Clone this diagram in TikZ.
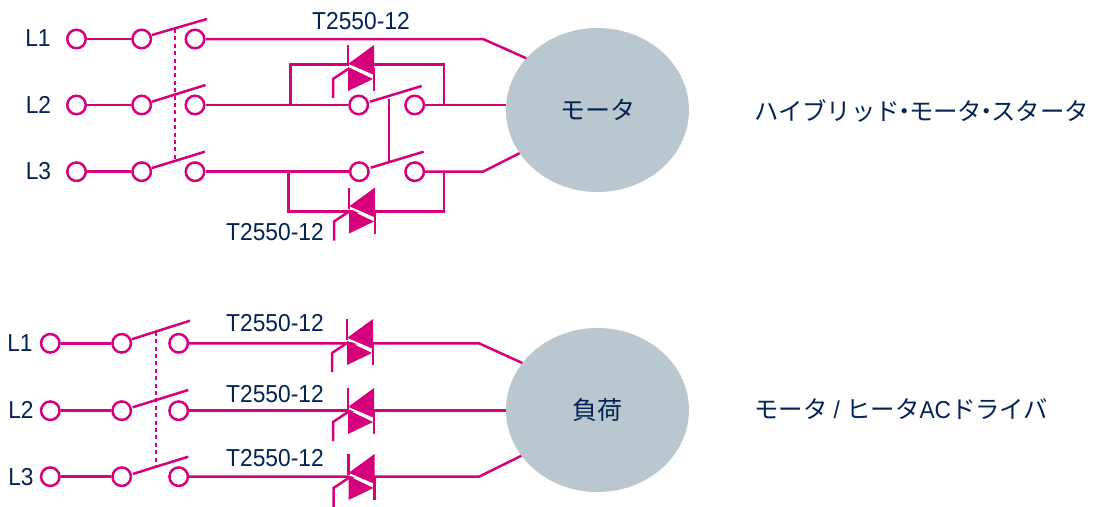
\documentclass[tikz,border=0pt]{standalone}
\usepackage{fontspec}
\usepackage{xcolor}
\setmainfont[FakeStretch=0.93]{Liberation Sans}
\newfontfamily\cjk{Noto Sans CJK JP}
\usetikzlibrary{shapes.geometric}
\definecolor{wirepink}{RGB}{214,0,124}
\definecolor{labelnavy}{RGB}{3,35,85}
\definecolor{loadgrey}{RGB}{187,199,206}
\newcommand{\nakaguro}{\makebox[9pt]{\cjk ・}}
\tikzset{
    wire/.style={draw=wirepink,line width=2.5pt},
    link/.style={draw=wirepink,line width=2pt},
    term/.style={circle,draw=wirepink,fill=white,line width=2.5pt,minimum size=18.5pt,inner sep=0pt},
    load/.style={ellipse,fill=loadgrey,minimum width=183pt,minimum height=164pt,inner sep=0pt,text=labelnavy,font=\fontsize{25}{26}\selectfont},
    lbl/.style={text=labelnavy,inner sep=0pt,font=\fontsize{24.5}{26}\selectfont},
    txt/.style={lbl,anchor=west,font=\fontsize{24.4}{26}\selectfont},
    pics/triac/.style={code={
        \coordinate (-c) at (0,0);
        \fill[wirepink] (-13,-4)--(13,-23)--(13,8)--cycle;
        \fill[wirepink] (-13,-1)--(12,11)--(-13,23)--cycle;
        \draw[white,line width=2pt] (-14,-3.5)--(14,8.5);
        \draw[wire] (-13,-23)--(-13,-2);
        \draw[wire] (13,0)--(13,23);
        \draw[wire] (-13,1)--(-28,11)--(-28,30);
    }}
}
\begin{document}
\begin{tikzpicture}[x=1pt,y=-1pt]
    \useasboundingbox (0,0) rectangle (1099,506);
    %%% LOADS %%%
    \node[load] (M) at (597.5,110) {\cjk モータ};
    \node[load] (H) at (597.5,410) {\cjk 負荷};

    %%% COORDINATES %%%
    \coordinate (k1) at (483,39);
    \coordinate (k3) at (483,171.7);
    \coordinate (p1) at (290.7,105);
    \coordinate (p2) at (290.7,64.3);
    \coordinate (p3) at (444,64.3);
    \coordinate (p4) at (444,105);
    \coordinate (q1) at (288.5,171.7);
    \coordinate (q2) at (288.5,211.7);
    \coordinate (q3) at (444,211.7);
    \coordinate (q4) at (444,171.7);
    \coordinate (k4) at (479,343.3);
    \coordinate (k6) at (479,476.7);

    %%% TERMINALS, UPPER %%%
    \node[term] (a1) at (76.5,39) {};
    \node[term] (a2) at (76.5,105) {};
    \node[term] (a3) at (76.5,171.7) {};
    \node[term] (b1) at (141.7,39) {};
    \node[term] (b2) at (141.7,105) {};
    \node[term] (b3) at (141.7,171.7) {};
    \node[term] (c1) at (195,39) {};
    \node[term] (c2) at (195,105) {};
    \node[term] (c3) at (195,171.7) {};
    \node[term] (d2) at (358.7,105) {};
    \node[term] (d3) at (359.3,171.7) {};
    \node[term] (e2) at (414.7,105) {};
    \node[term] (e3) at (414.7,171.7) {};

    %%% TERMINALS, LOWER %%%
    \node[term] (f1) at (50.3,343.3) {};
    \node[term] (f2) at (50.3,410.7) {};
    \node[term] (f3) at (50.3,476.7) {};
    \node[term] (g1) at (121.7,343.3) {};
    \node[term] (g2) at (121.7,410.7) {};
    \node[term] (g3) at (121.7,476.7) {};
    \node[term] (h1) at (178.7,343.3) {};
    \node[term] (h2) at (178.7,410.7) {};
    \node[term] (h3) at (178.7,476.7) {};

    %%% WIRES, UPPER %%%
    \draw[wire] (a1)--(b1);
    \draw[wire] (a2)--(b2);
    \draw[wire] (a3)--(b3);
    \draw[wire] (c1)--(k1)--(M.144);
    \draw[wire] (c2)--(d2);
    \draw[wire] (c3)--(d3);
    \draw[wire] (e2)--(e2 -| M.west);
    \draw[wire] (e3)--(k3)--(M.209);
    \draw[wire] (p1)--(p2)--(p3)--(p4);
    \draw[wire] (q1)--(q2)--(q3)--(q4);

    %%% WIRES, LOWER %%%
    \draw[wire] (f1)--(g1);
    \draw[wire] (f2)--(g2);
    \draw[wire] (f3)--(g3);
    \draw[wire] (h1)--(k4)--(H.148);
    \draw[wire] (h2)--(h2 -| H.west);
    \draw[wire] (h3)--(k6)--(H.211);

    %%% SWITCHES %%%
    \draw[wire] (152,35)--(207,19);
    \draw[wire] (152,101.7)--(205.5,85);
    \draw[wire] (152,168)--(205,151.7);
    \draw[wire] (370,101.7)--(421.7,86);
    \draw[wire] (370.7,167.7)--(423.7,151.7);
    \draw[wire] (131.7,339.3)--(190,320.7);
    \draw[wire] (132.7,407.3)--(188.3,390);
    \draw[wire] (132.7,474)--(188.3,456.7);
    \draw[link,dash pattern=on 4pt off 3.4pt] (174.5,29)--(174.5,161);
    \draw[link] (389,99)--(389,162);
    \draw[link,dash pattern=on 4pt off 3.4pt] (156,331.7)--(156,466.7);

    %%% TRIACS %%%
    \pic (T1) at (361,68) {triac};
    \pic (T2) at (362,210.5) {triac};
    \pic (T3) at (360,342) {triac};
    \pic (T4) at (361,411) {triac};
    \pic (T5) at (361.5,477) {triac};

    %%% LABELS %%%
    \node[lbl] (n1) at (38,38) {L1};
    \node[lbl] (n2) at (38.5,105) {L2};
    \node[lbl] (n3) at (38.5,171) {L3};
    \node[lbl] (n4) at (20,343) {L1};
    \node[lbl] (n5) at (21,410) {L2};
    \node[lbl] (n6) at (21,477) {L3};
    \node[lbl] (t1) at (361,21) {T2550-12};
    \node[lbl] (t2) at (275,232) {T2550-12};
    \node[lbl] (t3) at (275,323) {T2550-12};
    \node[lbl] (t4) at (275,394) {T2550-12};
    \node[lbl] (t5) at (275,458) {T2550-12};
    \node[txt] (s1) at (754,111) {\cjk ハイブリッド\nakaguro モータ\nakaguro スタータ};
    \node[txt] (s2) at (754,409) {{\cjk モータ} / {\cjk ヒータ}AC{\cjk ドライバ}};
\end{tikzpicture}
\end{document}
